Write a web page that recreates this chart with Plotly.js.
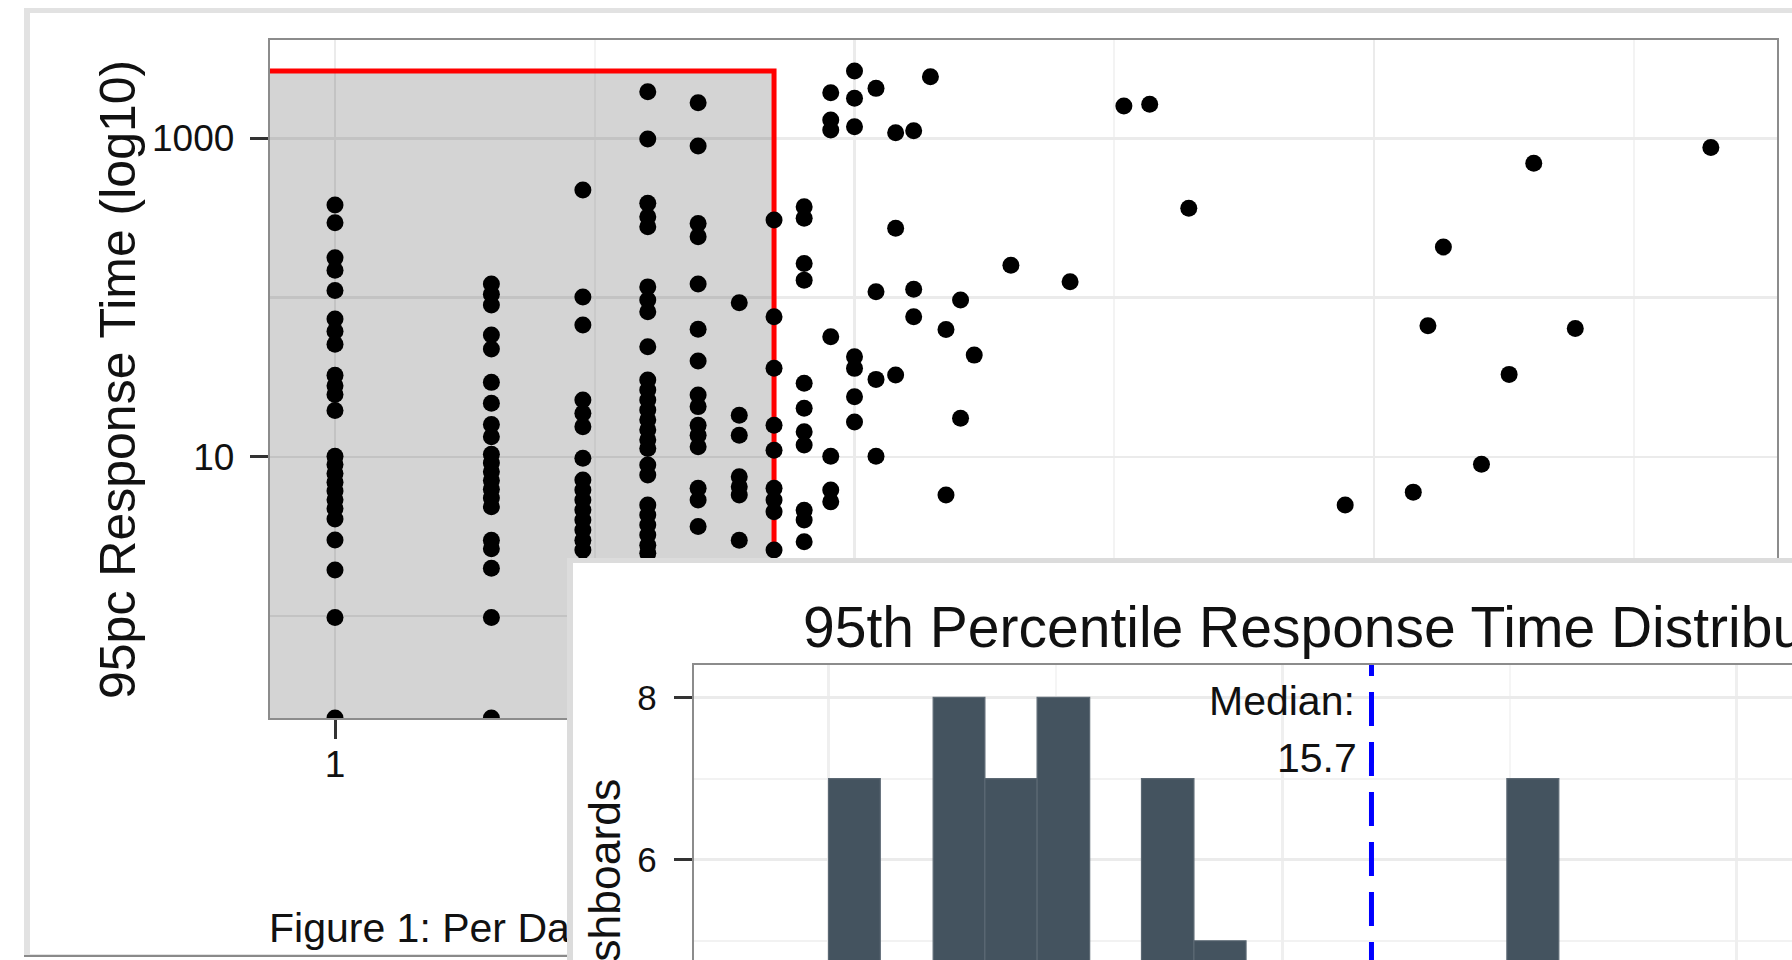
<!DOCTYPE html>
<html>
<head>
<meta charset="utf-8">
<script src="https://cdn.plot.ly/plotly-3.0.1.min.js"></script>
<style>
html,body{margin:0;padding:0;width:1792px;height:960px;overflow:hidden;background:#fff;}
#stage{position:relative;width:1792px;height:960px;overflow:hidden;background:#fff;}
#frame{position:absolute;left:24px;top:8px;width:1900px;height:949px;background:#e2e2e2;}
#frameInner{position:absolute;left:30px;top:13px;width:1900px;height:941px;background:#fff;}
#frameEdge{position:absolute;left:24px;top:955px;width:1900px;height:2px;background:#8a8a8a;}
#main{position:absolute;left:0;top:0;width:1792px;height:960px;}
#insetBorder{position:absolute;left:567px;top:558px;width:1600px;height:1000px;background:#dcdcdc;}
#inset{position:absolute;left:573px;top:563px;width:1950px;height:900px;background:#fff;}
</style>
</head>
<body>
<div id="stage">
  <div id="frame"></div>
  <div id="frameInner"></div>
  <div id="frameEdge"></div>
  <div id="main"></div>
  <div id="insetBorder"></div>
  <div id="inset"></div>
</div>
<script>
const FONT = '"Liberation Sans", Arial, Helvetica, sans-serif';

// ---------------- Scatter data (Figure 1) ----------------
// x: per-dashboard count (log10 axis); y: 95pc response time (log10 axis); 0 = -Inf (drawn at panel bottom)
const panelCount = [1, 2, 3, 4, 5, 6, 7, 8, 9, 10, 11, 12, 13, 14, 15, 16, 17,
                    20, 26, 33, 37, 44, 88, 119, 127, 136, 161, 182, 203, 244, 445];
const p95ByCount = [
  [382, 296, 178, 149, 111, 73.4, 61.5, 51, 32.6, 28, 24.7, 19.6, 10.1, 8.95, 7.88, 6.93, 6.1, 5.38, 4.74, 4.07, 3.01, 1.95, 0.98, 0],
  [122, 105, 90, 58.3, 47.7, 29.4, 21.7, 16, 13.4, 10.4, 9.17, 8.07, 7.11, 6.27, 5.52, 4.87, 3.0, 2.65, 2.0, 0.98, 0],
  [475, 101, 67.4, 22.8, 18.8, 15.5, 9.8, 7.16, 6.2, 5.36, 4.64, 4.02, 3.47, 3.0, 2.6, 2.1, 1.4, 0],
  [1968, 993, 392, 323, 279, 117, 96.7, 81.7, 49.2, 30.4, 26.3, 22.8, 19.7, 17.1, 14.8, 12.8, 11.3, 8.9, 7.7, 4.99, 4.32, 3.73, 3.23, 2.79, 2.48, 1.9, 1.2],
  [1679, 897, 293, 242, 122, 63.3, 40, 24.5, 20.7, 15.8, 13.7, 11.6, 6.35, 5.36, 3.65, 1.6],
  [93.1, 18.3, 13.7, 7.5, 6.5, 5.77, 3.0],
  [308, 76, 36.1, 15.8, 11, 6.35, 5.36, 4.53, 2.6],
  [373, 316, 164, 129, 29, 20.2, 14.4, 11.9, 4.63, 4.02, 2.93],
  [1941, 1307, 1130, 56.9, 10.1, 6.2, 5.23],
  [2655, 1790, 1186, 42.6, 36, 23.9, 16.6],
  [2066, 109, 30.7, 10.1],
  [1087, 273, 32.7],
  [1119, 113, 76],
  [2445],
  [63.2, 5.77],
  [96.8, 17.5],
  [43.6],
  [160], [126], [1600], [1640], [365], [4.99], [6.01], [66.7], [208], [8.98], [33], [700], [64], [878]
];
const highlightMaxX = 7;            // shaded region: counts up to 7
const mainXTicks = [1, 10, 100];
const mainXTickText = ['1', '10', '100'];
const mainXMinor = [3.162, 31.62, 316.2];
const mainYTicks = [10, 1000];
const mainYTickText = ['10', '1000'];
const mainYMinor = [1, 100];

// ---------------- Histogram data (inset) ----------------
const histEdges = [0.768, 1.00, 1.30, 1.70, 2.21, 2.88, 3.76, 4.89, 6.38, 8.31, 10.8, 14.1, 18.4, 23.9,
                   31.2, 40.6, 53.0, 69.0, 89.9, 117, 153, 199, 259, 338, 440, 573, 747, 973, 1268, 1651, 2151, 2803];
const histCounts = [1, 7, 2, 8, 7, 8, 3, 7, 5, 4, 3, 4, 4, 3, 7, 4, 4, 3, 4, 3, 4, 3, 2, 3, 2, 3, 1, 2, 1, 2, 1];
const medianValue = 15.7;
const histYTicks = [0, 2, 4, 6, 8];
const histYMinor = [1, 3, 5, 7];
const histXTickVals = [1, 10, 100, 1000];

// ---------------- Main scatter ----------------
const W = 1792, H = 960;
const mainXRange = [-0.1257, 2.7757];
const mainYRange = [-0.640, 3.619];
const xs = [], ys = [];
panelCount.forEach((c, i) => p95ByCount[i].forEach(v => {
  xs.push(c);
  ys.push(v > 0 ? v : Math.pow(10, mainYRange[0]));   // -Inf placed on panel edge (as ggplot)
}));
const maxY = Math.max(...p95ByCount.flat());

const axisCommon = {
  ticks: 'outside', tickwidth: 3, tickcolor: '#333', ticklen: 18,
  showline: true, mirror: true, linecolor: '#8c8c8c', linewidth: 2,
  showgrid: true, gridcolor: '#ebebeb', gridwidth: 2.5, zeroline: false,
  tickfont: {family: FONT, size: 37, color: '#111'}, tickmode: 'array'
};

const mainLayout = {
  width: W, height: H, margin: {l: 0, r: 0, t: 0, b: 0},
  paper_bgcolor: 'rgba(0,0,0,0)', plot_bgcolor: '#fff', showlegend: false,
  font: {family: FONT, color: '#111'},
  xaxis: Object.assign({}, axisCommon, {
    type: 'log', domain: [269.7 / W, 1777 / W], range: mainXRange,
    tickvals: mainXTicks, ticktext: mainXTickText, ticklen: 19, ticklabelstandoff: -6,
    minor: {tickmode: 'array', tickvals: mainXMinor, ticks: '', showgrid: true, gridcolor: '#f3f3f3', gridwidth: 2}
  }),
  yaxis: Object.assign({}, axisCommon, {
    type: 'log', domain: [1 - 718 / H, 1 - 40 / H], range: mainYRange,
    tickvals: mainYTicks, ticktext: mainYTickText, ticklabelstandoff: 8,
    minor: {tickmode: 'array', tickvals: mainYMinor, ticks: '', showgrid: true, gridcolor: '#ebebeb', gridwidth: 2.5}
  }),
  shapes: [{
    type: 'rect', xref: 'x', yref: 'y', layer: 'between',
    x0: 0.5, x1: highlightMaxX, y0: 0.1, y1: maxY,
    fillcolor: 'rgba(0,0,0,0.17)', line: {color: '#ff0000', width: 5}
  }],
  annotations: [
    {text: '95pc Response Time (log10)', xref: 'paper', yref: 'paper', x: 118 / W, y: 1 - 380 / H,
     xanchor: 'center', yanchor: 'middle', textangle: -90, showarrow: false,
     font: {family: FONT, size: 50, color: '#111'}},
    {text: 'Figure 1: Per Dashboard Response Times', xref: 'paper', yref: 'paper', x: 267 / W, y: 1 - 928 / H,
     xanchor: 'left', yanchor: 'middle', showarrow: false,
     font: {family: FONT, size: 41, color: '#111'}}
  ]
};

Plotly.newPlot('main', [{
  type: 'scatter', mode: 'markers', x: xs, y: ys, cliponaxis: true,
  marker: {color: '#000', size: 17, line: {width: 0}}, hoverinfo: 'skip'
}], mainLayout, {displayModeBar: false, staticPlot: true});

// ---------------- Inset histogram ----------------
const IW = 1950, IH = 900;
const lg = v => Math.log10(v);
const barX = [], barW = [];
for (let i = 0; i < histCounts.length; i++) {
  barX.push((lg(histEdges[i]) + lg(histEdges[i + 1])) / 2);
  barW.push(lg(histEdges[i + 1]) - lg(histEdges[i]));
}
const histXRange = [-0.297, 3.6];
const histYRange = [-0.4, 8.4];
const medLog = lg(medianValue);

const insetLayout = {
  width: IW, height: IH, margin: {l: 0, r: 0, t: 0, b: 0},
  paper_bgcolor: '#fff', plot_bgcolor: '#fff', showlegend: false, bargap: 0,
  font: {family: FONT, color: '#111'},
  title: {text: '95th Percentile Response Time Distribution', xref: 'container', yref: 'container',
          x: 230 / IW, xanchor: 'left', y: 1 - 64 / IH, yanchor: 'middle',
          font: {family: FONT, size: 57, color: '#111'}},
  xaxis: Object.assign({}, axisCommon, {
    type: 'linear', domain: [120.7 / IW, (120.7 + (histXRange[1] - histXRange[0]) * 454) / IW], range: histXRange,
    tickvals: histXTickVals.map(lg), ticktext: histXTickVals.map(String), showticklabels: false,
    gridcolor: '#efefef',
    minor: {tickmode: 'array', tickvals: [0.5, 1.5, 2.5], ticks: '', showgrid: true, gridcolor: '#f5f5f5', gridwidth: 2}
  }),
  yaxis: Object.assign({}, axisCommon, {
    domain: [1 - 815.7 / IH, 1 - 102 / IH], range: histYRange,
    tickvals: histYTicks, ticktext: histYTicks.map(String), ticklabelstandoff: 10,
    tickfont: {family: FONT, size: 35, color: '#111'},
    minor: {tickmode: 'array', tickvals: histYMinor, ticks: '', showgrid: true, gridcolor: '#f2f2f2', gridwidth: 2}
  }),
  annotations: [
    {text: 'Number of Dashboards', xref: 'paper', yref: 'paper', x: 30.8 / IW, y: 1 - 214 / IH,
     xanchor: 'center', yanchor: 'top', textangle: -90, showarrow: false,
     font: {family: FONT, size: 44.5, color: '#111'}},
    {text: 'Median:', xref: 'x', yref: 'y', x: medLog, y: 7.95, xshift: -14,
     xanchor: 'right', yanchor: 'middle', showarrow: false, font: {family: FONT, size: 41, color: '#111'}},
    {text: String(medianValue), xref: 'x', yref: 'y', x: medLog, y: 7.25, xshift: -12,
     xanchor: 'right', yanchor: 'middle', showarrow: false, font: {family: FONT, size: 41, color: '#111'}}
  ]
};

// median guide drawn as a clipped dashed line trace spanning the whole panel
const medianLine = {
  type: 'scatter', mode: 'lines', x: [medLog, medLog],
  y: [histYRange[1] + 23 / 81.1, histYRange[0]],
  line: {color: '#0000ff', width: 5, dash: '34px,16px'}, hoverinfo: 'skip'
};

Plotly.newPlot('inset', [{
  type: 'bar', x: barX, y: histCounts, width: barW,
  marker: {color: '#44535f', line: {color: '#5b6873', width: 1.2}}, hoverinfo: 'skip'
}, medianLine], insetLayout, {displayModeBar: false, staticPlot: true});
</script>
</body>
</html>
